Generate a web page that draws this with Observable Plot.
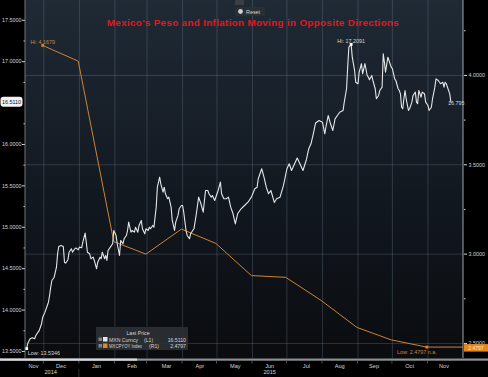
<!DOCTYPE html>
<html><head><meta charset="utf-8">
<script src="https://cdn.jsdelivr.net/npm/d3@7"></script>
<script src="https://cdn.jsdelivr.net/npm/@observablehq/plot@0.6"></script>
<style>
html,body{margin:0;padding:0;background:#000;}
#chart{width:488px;height:377px;overflow:hidden;}
</style></head><body><div id="chart"></div>
<script>
const title = "Mexico's Peso and Inflation Moving in Opposite Directions";

const mxnDates = ["2014-11-16","2014-11-17","2014-11-19","2014-11-21","2014-11-23","2014-11-24","2014-11-27","2014-11-29","2014-11-30",
"2014-12-02","2014-12-03","2014-12-05","2014-12-06","2014-12-07","2014-12-08","2014-12-10","2014-12-12","2014-12-13","2014-12-14","2014-12-16","2014-12-18","2014-12-19","2014-12-20","2014-12-22","2014-12-23","2014-12-25","2014-12-26","2014-12-28","2014-12-29","2014-12-31",
"2015-01-01","2015-01-03","2015-01-04","2015-01-06","2015-01-07","2015-01-08","2015-01-10","2015-01-11","2015-01-13","2015-01-14","2015-01-16","2015-01-17","2015-01-19","2015-01-20","2015-01-21","2015-01-23","2015-01-24","2015-01-25","2015-01-26","2015-01-28","2015-01-30","2015-01-31",
"2015-02-02","2015-02-03","2015-02-05","2015-02-06","2015-02-08","2015-02-09","2015-02-11","2015-02-12","2015-02-13","2015-02-15","2015-02-16","2015-02-18","2015-02-19","2015-02-21","2015-02-22","2015-02-24","2015-02-25","2015-02-27","2015-02-28",
"2015-03-02","2015-03-03","2015-03-04","2015-03-06","2015-03-07","2015-03-09","2015-03-10","2015-03-12","2015-03-13","2015-03-15","2015-03-16","2015-03-17","2015-03-19","2015-03-20","2015-03-22","2015-03-23","2015-03-25","2015-03-26","2015-03-28","2015-03-29","2015-03-31",
"2015-04-01","2015-04-02","2015-04-04","2015-04-05","2015-04-07","2015-04-08","2015-04-11","2015-04-13","2015-04-15","2015-04-17","2015-04-19","2015-04-21","2015-04-23","2015-04-24","2015-04-26","2015-04-27","2015-04-29",
"2015-05-02","2015-05-04","2015-05-05","2015-05-07","2015-05-09","2015-05-11","2015-05-13","2015-05-15","2015-05-17","2015-05-19","2015-05-22","2015-05-25","2015-05-28","2015-05-31",
"2015-06-03","2015-06-05","2015-06-06","2015-06-09","2015-06-11","2015-06-13","2015-06-15","2015-06-17","2015-06-20","2015-06-22","2015-06-25","2015-06-28",
"2015-07-01","2015-07-03","2015-07-05","2015-07-07","2015-07-10","2015-07-13","2015-07-15","2015-07-18","2015-07-20","2015-07-22","2015-07-24","2015-07-26","2015-07-29",
"2015-08-01","2015-08-03","2015-08-04","2015-08-06","2015-08-08","2015-08-10","2015-08-12","2015-08-14","2015-08-16","2015-08-19","2015-08-20","2015-08-22","2015-08-23","2015-08-24","2015-08-26","2015-08-27","2015-08-29","2015-08-30",
"2015-09-01","2015-09-02","2015-09-04","2015-09-05","2015-09-07","2015-09-09","2015-09-10","2015-09-11","2015-09-13","2015-09-14","2015-09-16","2015-09-17","2015-09-19","2015-09-20","2015-09-22","2015-09-23","2015-09-24","2015-09-25","2015-09-27","2015-09-28","2015-09-30",
"2015-10-01","2015-10-03","2015-10-04","2015-10-06","2015-10-07","2015-10-08","2015-10-09","2015-10-10","2015-10-11","2015-10-12","2015-10-13","2015-10-15","2015-10-16","2015-10-18","2015-10-19","2015-10-21","2015-10-22","2015-10-23","2015-10-24","2015-10-26","2015-10-27","2015-10-29","2015-10-30",
"2015-11-01","2015-11-02","2015-11-04","2015-11-05","2015-11-07","2015-11-08","2015-11-10","2015-11-11","2015-11-12","2015-11-14","2015-11-15","2015-11-16","2015-11-17","2015-11-20","2015-11-21"];

const mxnValues = [13.5346,13.600,13.653,13.665,13.653,13.693,13.754,13.835,13.914,
13.975,14.016,14.095,14.176,14.277,14.357,14.397,14.518,14.680,14.768,14.780,14.768,14.578,14.566,14.607,14.699,14.740,14.699,14.740,14.752,14.728,
14.760,14.752,14.820,14.929,14.820,14.699,14.680,14.620,14.639,14.599,14.499,14.578,14.639,14.620,14.699,14.620,14.660,14.599,14.720,14.760,14.801,14.961,
14.900,14.801,14.659,14.841,14.801,14.861,14.900,14.961,15.062,14.941,14.961,14.941,15.001,14.941,15.022,15.082,14.982,14.921,14.982,
14.961,15.001,14.982,15.022,15.001,15.243,15.484,15.605,15.525,15.424,15.484,15.405,15.344,15.364,15.243,15.082,14.961,15.062,15.143,15.223,15.263,
15.263,15.182,14.961,14.901,14.861,14.921,14.986,15.163,15.364,15.284,15.182,15.444,15.444,15.405,15.364,15.384,15.324,
15.444,15.545,15.405,15.344,15.344,15.364,15.243,15.163,15.040,15.163,15.223,15.263,15.303,15.364,
15.465,15.484,15.586,15.707,15.605,15.484,15.405,15.444,15.300,15.344,15.364,15.505,
15.707,15.767,15.686,15.746,15.837,15.746,15.686,15.819,15.948,16.008,16.129,16.260,16.290,
16.269,16.129,16.209,16.350,16.250,16.169,16.310,16.350,16.390,16.411,16.511,16.673,16.934,17.175,17.2091,17.054,16.894,16.752,
16.733,16.873,16.975,16.854,16.978,16.833,16.813,16.781,16.833,16.773,16.673,16.552,16.592,16.652,16.692,17.095,16.994,16.873,17.054,17.014,16.934,
16.914,16.793,16.773,16.673,16.652,16.612,16.450,16.431,16.552,16.652,16.552,16.411,16.431,16.511,16.592,16.632,16.511,16.492,16.652,16.571,16.632,16.612,16.511,
16.471,16.411,16.450,16.552,16.692,16.793,16.773,16.752,16.733,16.752,16.692,16.752,16.733,16.612,16.5110];

const cpiDates = ["2014-11-30","2014-12-31","2015-01-31","2015-02-28","2015-03-31","2015-04-30","2015-05-31","2015-06-30","2015-07-31","2015-08-31","2015-09-30","2015-10-31"];
const cpiValues = [4.1679,4.08,3.07,3.00,3.14,3.06,2.88,2.87,2.74,2.59,2.52,2.4797];

const leftTicks = [13.5,14,14.5,15,15.5,16,17,17.5];
const leftMinorTicks = [13.75,14.25,14.75,15.25,15.75,16.25,16.75,17.25];
const rightTicks = [2.5,3,3.5,4];
const rightMinorTicks = [2.75,3.25,3.75,4.25];
const monthStarts = ["2014-12-01","2015-01-01","2015-02-01","2015-03-01","2015-04-01","2015-05-01","2015-06-01","2015-07-01","2015-08-01","2015-09-01","2015-10-01","2015-11-01"];
const monthLabels = ["Nov","Dec","Jan","Feb","Mar","Apr","May","Jun","Jul","Aug","Sep","Oct","Nov"];
const monthLabelDates = ["2014-11-22","2014-12-16","2015-01-16","2015-02-16","2015-03-18","2015-04-16","2015-05-17","2015-06-16","2015-07-18","2015-08-16","2015-09-15","2015-10-16","2015-11-15"];
const yearLabels = ["2014","2015"];
const yearLabelDates = ["2014-12-07","2015-06-16"];
const xDomain = ["2014-11-15","2015-12-02"];
const seriesNames = ["MXN Curncy","MXCPYOY Index"];
const seriesAxes = ["(L1)","(R1)"];
const lastValues = ["16.5110","2.4797"];

// map right-axis (inflation) values into left-axis units
const toL = v => 13.5966 + (v - 2.5) * 2.1582;
const fromL = v => (v - 13.5966) / 2.1582 + 2.5;

const mxn = mxnDates.map((d,i)=>({date:new Date(d), value:mxnValues[i]}));
const cpi = cpiDates.map((d,i)=>({date:new Date(d), value:cpiValues[i], yL:toL(cpiValues[i])}));
const hiM = mxn.reduce((a,b)=>b.value>a.value?b:a);
const loM = mxn.reduce((a,b)=>b.value<a.value?b:a);
const hiC = cpi.reduce((a,b)=>b.value>a.value?b:a);
const loC = cpi.reduce((a,b)=>b.value<a.value?b:a);
const lastM = mxn[mxn.length-1];
const lastC = cpi[cpi.length-1];

const ORANGE = "#d0822f";
const WHITE = "#e4e6e8";
const TXT = "#d4d6d8";
const FONT = "'Liberation Sans', Arial, sans-serif";
const gridStroke = "#7d8fa3";

const plot = Plot.plot({
  width: 488, height: 377,
  marginLeft: 25, marginRight: 25, marginTop: 0, marginBottom: 19,
  style: {background: "#000", color: TXT, fontFamily: FONT, fontSize: "5.4px"},
  x: {type: "utc", domain: xDomain.map(d=>new Date(d)), axis: null},
  y: {domain: [13.415, 17.739], axis: null},
  marks: [
    Plot.gridX(monthStarts.map(d=>new Date(d)), {stroke: gridStroke, strokeOpacity: 0.28, strokeWidth: 1}),
    Plot.gridY(rightTicks.map(toL), {stroke: gridStroke, strokeOpacity: 0.28, strokeWidth: 1}),
    Plot.line(cpi, {x: "date", y: "yL", stroke: ORANGE, strokeWidth: 1}),
    Plot.ruleY([lastC], {y: "yL", x1: "date", x2: () => new Date(xDomain[1]), stroke: ORANGE, strokeWidth: 1}),
    Plot.line(mxn, {x: "date", y: "value", stroke: WHITE, strokeWidth: 1.1}),
    // left axis
    Plot.axisY(leftTicks, {anchor: "left", tickSize: 3, tickPadding: 1, tickFormat: d => d.toFixed(4), color: TXT, fontSize: 5.4, label: null}),
    Plot.axisY(leftMinorTicks, {anchor: "left", tickSize: 1.5, tickFormat: () => "", color: TXT, label: null}),
    // right axis
    Plot.axisY(rightTicks.map(toL), {anchor: "right", tickSize: 3, tickPadding: 2, tickFormat: d => fromL(d).toFixed(4), color: TXT, fontSize: 5.4, label: null}),
    Plot.axisY(rightMinorTicks.map(toL), {anchor: "right", tickSize: 1.5, tickFormat: () => "", color: TXT, label: null}),
    // x labels
    Plot.text(monthLabels, {x: (d,i) => new Date(monthLabelDates[i]), text: d => d, frameAnchor: "bottom", dy: 9, fill: TXT, fontSize: 5.6}),
    Plot.text(yearLabels, {x: (d,i) => new Date(yearLabelDates[i]), text: d => d, frameAnchor: "bottom", dy: 15.5, fill: TXT, fontSize: 5.6}),
    // hi / low annotations
    Plot.text([hiC], {x: "date", y: "yL", text: d => "Hi: " + d.value.toFixed(4), dy: -3.5, fill: "#c8883e", fontSize: 5.4}),
    Plot.dot([hiC], {x: "date", y: "yL", symbol: "square", r: 1.6, fill: ORANGE}),
    Plot.text([hiM], {x: "date", y: "value", text: d => "Hi: " + d.value.toFixed(4), dy: -3.5, fill: TXT, fontSize: 5.4}),
    Plot.dot([hiM], {x: "date", y: "value", symbol: "square", r: 1.6, fill: "#fff"}),
    Plot.text([loM], {x: "date", y: "value", text: d => "Low: " + d.value.toFixed(4), textAnchor: "start", dx: 1, dy: 5, fill: TXT, fontSize: 5.4}),
    Plot.dot([loM], {x: "date", y: "value", symbol: "square", r: 1.6, fill: "#fff"}),
    Plot.text([loC], {x: "date", y: "yL", text: d => "Low: " + d.value.toFixed(4) + " n.a.", textAnchor: "end", dx: 10, dy: 5, fill: "#c8883e", fontSize: 5.4}),
    Plot.dot([loC], {x: "date", y: "yL", symbol: "square", r: 1.6, fill: ORANGE}),
    Plot.text([lastM], {x: "date", y: "value", text: () => "16.795", textAnchor: "start", dx: -3, dy: 1, fill: TXT, fontSize: 5.4})
  ]
});

const svg = d3.select(plot);
const ys = plot.scale("y");
const W = 488;

// background gradient for plot area
const defs = svg.insert("defs", ":first-child");
const grad = defs.append("linearGradient").attr("id","bg").attr("x1",0).attr("y1",0).attr("x2",0).attr("y2",1);
grad.append("stop").attr("offset","0%").attr("stop-color","#1f2a35");
grad.append("stop").attr("offset","55%").attr("stop-color","#121820");
grad.append("stop").attr("offset","100%").attr("stop-color","#0a0c0f");
svg.insert("rect", "defs + *").attr("x",25).attr("y",0).attr("width",438).attr("height",358).attr("fill","url(#bg)");

// frame edges and bottom bar
svg.append("line").attr("x1",25).attr("x2",25).attr("y1",0).attr("y2",358).attr("stroke","#8a8f94").attr("stroke-width",0.8);
svg.append("line").attr("x1",463).attr("x2",463).attr("y1",0).attr("y2",358).attr("stroke","#c8ccd0").attr("stroke-width",0.8);
svg.append("rect").attr("x",0).attr("y",358.5).attr("width",W).attr("height",2.2).attr("fill","#8e9195");
svg.append("rect").attr("x",0).attr("y",358.5).attr("width",137).attr("height",2.2).attr("fill","#d8dadc");

// month tick marks below the axis bar
const xs = plot.scale("x");
monthStarts.forEach(d => {
  const xx = xs.apply(new Date(d));
  svg.append("line").attr("x1",xx).attr("x2",xx).attr("y1",361).attr("y2",363.5).attr("stroke","#666").attr("stroke-width",0.8);
});
// year separator
const xy = xs.apply(new Date("2015-01-01"));
svg.append("line").attr("x1",xy).attr("x2",xy).attr("y1",369).attr("y2",377).attr("stroke","#3a3d40").attr("stroke-width",0.8);

// title
svg.append("text").attr("x",253).attr("y",26).attr("text-anchor","middle")
  .attr("font-family",FONT).attr("font-weight","bold")
  .attr("font-size",9.8).attr("fill","#e5161e").attr("letter-spacing",0.35).text(title);

// reset widget
const rg = svg.append("g").attr("text-anchor","start");
rg.append("rect").attr("x",235).attr("y",0).attr("width",9).attr("height",5).attr("fill","#3a3f44");
rg.append("rect").attr("x",235).attr("y",7).attr("width",30).attr("height",9).attr("rx",1.5).attr("fill","#2a2f34");
rg.append("circle").attr("cx",240.5).attr("cy",11.5).attr("r",2.4).attr("fill","#d0d0d0");
rg.append("text").attr("x",246).attr("y",13.5).attr("font-family",FONT).attr("font-size",5.4).attr("fill","#cfd2d4").text("Reset");

// last value tags
const yLast = ys.apply(lastM.value);
svg.append("rect").attr("x",0.5).attr("y",yLast-5).attr("width",22).attr("height",10).attr("rx",3).attr("fill","#f2f2f2");
svg.append("text").attr("x",11.5).attr("y",yLast+2).attr("text-anchor","middle").attr("font-family",FONT).attr("font-size",5.4).attr("fill","#111").text(lastValues[0]);
const yLastC = ys.apply(lastC.yL);
svg.append("rect").attr("x",464).attr("y",yLastC-2.5).attr("width",24).attr("height",7.5).attr("fill","#e8861c");
svg.append("text").attr("x",476).attr("y",yLastC+3.3).attr("text-anchor","middle").attr("font-family",FONT).attr("font-size",5).attr("fill","#fbe6cc").text(lastValues[1]);

// legend
const nameWidths = [29, 33];
const lg = svg.append("g").attr("font-family",FONT).attr("font-size",5.2).attr("text-anchor","start");
lg.append("rect").attr("x",96).attr("y",327).attr("width",92).attr("height",23).attr("fill","#2c3034").attr("fill-opacity",0.9);
lg.append("text").attr("x",138).attr("y",334.5).attr("text-anchor","middle").attr("fill",TXT).text("Last Price");
[[WHITE, 341.5],[ "#e8861c", 348]].forEach(([c, yy], i) => {
  lg.append("rect").attr("x",98.5).attr("y",yy-4).attr("width",3.5).attr("height",3.5).attr("fill","#7c8084");
  lg.append("rect").attr("x",103).attr("y",yy-4.5).attr("width",4.5).attr("height",4.5).attr("fill",c);
  lg.append("text").attr("x",109).attr("y",yy).attr("fill",TXT)
    .attr("textLength",nameWidths[i]).attr("lengthAdjust","spacingAndGlyphs").text(seriesNames[i]);
  lg.append("text").attr("x",i===0?144:149).attr("y",yy).attr("fill",TXT).text(seriesAxes[i]);
  lg.append("text").attr("x",186).attr("y",yy).attr("text-anchor","end").attr("fill",TXT).text(lastValues[i]);
});

document.getElementById("chart").appendChild(plot);
</script></body></html>
